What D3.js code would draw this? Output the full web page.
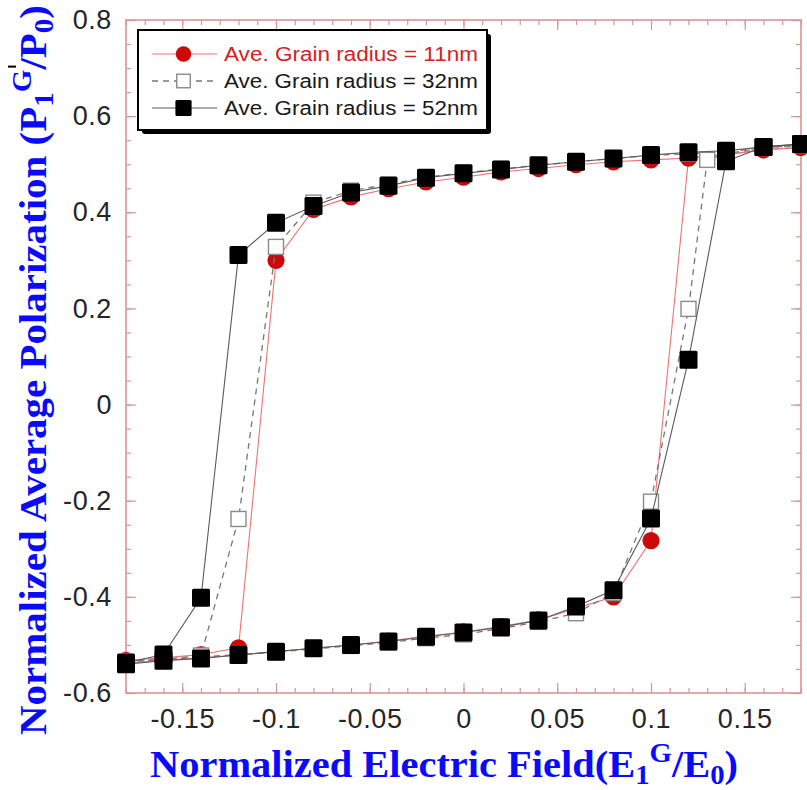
<!DOCTYPE html>
<html>
<head>
<meta charset="utf-8">
<script src="https://cdn.jsdelivr.net/npm/d3@7"></script>
<style>
  body { margin: 0; background: #ffffff; }
  svg { display: block; }
</style>
</head>
<body>
<svg id="chart" width="807" height="790"></svg>
<script>
// Field sweeps (normalized electric field E1G/E0)
const fieldUp = [-0.18, -0.16, -0.14, -0.12, -0.10, -0.08, -0.06, -0.04, -0.02, 0.00,
                 0.02, 0.04, 0.06, 0.08, 0.10, 0.12, 0.14, 0.16, 0.18];
const fieldDown = [0.18, 0.16, 0.14, 0.12, 0.10, 0.08, 0.06, 0.04, 0.02, 0.00,
                   -0.02, -0.04, -0.06, -0.08, -0.10, -0.12, -0.14, -0.16, -0.18];
const fieldUp32 = [-0.18, -0.16, -0.14, -0.12, -0.10, -0.08, -0.06, -0.04, -0.02, 0.00,
                   0.02, 0.04, 0.06, 0.08, 0.10, 0.12, 0.13, 0.14, 0.16, 0.18];

// Average grain radius = 11nm
const pol11Up = [-0.538, -0.532, -0.527, -0.521, -0.514, -0.507, -0.500, -0.492, -0.482, -0.473,
                 -0.462, -0.448, -0.424, -0.400, -0.283, 0.513, 0.520, 0.530, 0.535];
const pol11Down = [0.535, 0.530, 0.520, 0.513, 0.509, 0.505, 0.499, 0.491, 0.484, 0.473,
                   0.463, 0.449, 0.432, 0.406, 0.300, -0.506, -0.520, -0.527, -0.532];

// Average grain radius = 32nm
const pol32Up = [-0.535, -0.530, -0.525, -0.520, -0.515, -0.508, -0.502, -0.495, -0.486, -0.478,
                 -0.466, -0.452, -0.434, -0.392, -0.202, 0.199, 0.509, 0.522, 0.534, 0.540];
const pol32Down = [0.540, 0.534, 0.526, 0.522, 0.518, 0.512, 0.505, 0.498, 0.490, 0.482,
                   0.473, 0.458, 0.445, 0.420, 0.328, -0.238, -0.522, -0.530, -0.535];

// Average grain radius = 52nm
const pol52Up = [-0.540, -0.533, -0.528, -0.521, -0.514, -0.507, -0.500, -0.493, -0.483, -0.474,
                 -0.463, -0.449, -0.420, -0.386, -0.237, 0.093, 0.506, 0.536, 0.542];
const pol52Down = [0.542, 0.536, 0.528, 0.525, 0.519, 0.512, 0.505, 0.498, 0.489, 0.481,
                   0.472, 0.455, 0.441, 0.413, 0.378, 0.311, -0.402, -0.520, -0.537];

const seriesNames = ["Ave. Grain radius = 11nm", "Ave. Grain radius = 32nm", "Ave. Grain radius = 52nm"];

const xTickValues = [-0.15, -0.1, -0.05, 0, 0.05, 0.1, 0.15];
const xTickLabels = ["-0.15", "-0.1", "-0.05", "0", "0.05", "0.1", "0.15"];
const yTickValues = [-0.6, -0.4, -0.2, 0, 0.2, 0.4, 0.6, 0.8];
const yTickLabels = ["-0.6", "-0.4", "-0.2", "0", "0.2", "0.4", "0.6", "0.8"];

// ---------- layout ----------
const svg = d3.select("#chart");
const plot = { left: 126, right: 801, top: 20, bottom: 693 };
const x = d3.scaleLinear().domain([-0.18, 0.18]).range([plot.left, plot.right]);
const y = d3.scaleLinear().domain([-0.6, 0.8]).range([plot.bottom, plot.top]);

const frameColor = "#d99595";
const tickFont = "'Liberation Sans', Arial, Helvetica, sans-serif";
const titleFont = "'Liberation Serif', 'Times New Roman', serif";

// build point lists for a loop (increasing sweep then decreasing sweep)
function loop(fUp, pUp, fDown, pDown) {
  const up = fUp.map((f, i) => ({ f, p: pUp[i] }));
  const down = fDown.map((f, i) => ({ f, p: pDown[i] }));
  return { up, down };
}

const series = [
  { name: seriesNames[0], data: loop(fieldUp, pol11Up, fieldDown, pol11Down),
    line: "#ee7272", lineWidth: 1.1, dash: null, marker: "circle",
    fill: "#cc0a0a", stroke: "none", text: "#d42222" },
  { name: seriesNames[1], data: loop(fieldUp32, pol32Up, fieldDown, pol32Down),
    line: "#777777", lineWidth: 1.3, dash: "6,5", marker: "open",
    fill: "#ffffff", stroke: "#8a8a8a", text: "#1a1a1a" },
  { name: seriesNames[2], data: loop(fieldUp, pol52Up, fieldDown, pol52Down),
    line: "#5a5a5a", lineWidth: 1.1, dash: null, marker: "square",
    fill: "#000000", stroke: "none", text: "#1a1a1a" }
];

// ---------- frame and ticks ----------
const axes = svg.append("g");

function styleAxis(g) {
  g.select(".domain").remove();
  g.selectAll(".tick line").attr("stroke", frameColor).attr("stroke-width", 1.2);
}

const xMinor = d3.range(-18, 19).map(d => d / 100);
const yMinor = d3.range(-12, 17).map(d => d / 20);

// minor ticks on all four sides (pointing inward)
axes.append("g").attr("transform", `translate(0,${plot.bottom})`)
  .call(d3.axisBottom(x).tickValues(xMinor).tickSize(-5).tickFormat(""))
  .call(styleAxis);
axes.append("g").attr("transform", `translate(0,${plot.top})`)
  .call(d3.axisTop(x).tickValues(xMinor).tickSize(-5).tickFormat(""))
  .call(styleAxis);
axes.append("g").attr("transform", `translate(${plot.left},0)`)
  .call(d3.axisLeft(y).tickValues(yMinor).tickSize(-5).tickFormat(""))
  .call(styleAxis);
axes.append("g").attr("transform", `translate(${plot.right},0)`)
  .call(d3.axisRight(y).tickValues(yMinor).tickSize(-5).tickFormat(""))
  .call(styleAxis);

// major ticks with labels
const xAxis = axes.append("g").attr("transform", `translate(0,${plot.bottom})`)
  .call(d3.axisBottom(x).tickValues(xTickValues).tickSize(-10).tickPadding(16)
    .tickFormat((d, i) => xTickLabels[i]))
  .call(styleAxis);
axes.append("g").attr("transform", `translate(0,${plot.top})`)
  .call(d3.axisTop(x).tickValues(xTickValues).tickSize(-10).tickFormat(""))
  .call(styleAxis);
const yAxis = axes.append("g").attr("transform", `translate(${plot.left},0)`)
  .call(d3.axisLeft(y).tickValues(yTickValues).tickSize(-10).tickPadding(14)
    .tickFormat((d, i) => yTickLabels[i]))
  .call(styleAxis);
axes.append("g").attr("transform", `translate(${plot.right},0)`)
  .call(d3.axisRight(y).tickValues(yTickValues).tickSize(-10).tickFormat(""))
  .call(styleAxis);

[xAxis, yAxis].forEach(g => g.selectAll(".tick text")
  .attr("fill", "#262626")
  .style("font-family", tickFont)
  .style("font-size", "27px")
  .style("letter-spacing", "0.6px"));

// frame
axes.append("rect")
  .attr("x", plot.left).attr("y", plot.top)
  .attr("width", plot.right - plot.left).attr("height", plot.bottom - plot.top)
  .attr("fill", "none").attr("stroke", frameColor).attr("stroke-width", 1.6);

// ---------- data ----------
const lineGen = d3.line().x(d => x(d.f)).y(d => y(d.p));
const marks = svg.append("g");

const sq = 18, openSq = 15, rCircle = 8.6;

function drawMarker(g, s, px, py, scale = 1) {
  if (s.marker === "circle") {
    g.append("circle").attr("cx", px).attr("cy", py).attr("r", rCircle * scale)
      .attr("fill", s.fill);
  } else if (s.marker === "open") {
    const w = openSq * scale;
    g.append("rect").attr("x", px - w / 2).attr("y", py - w / 2)
      .attr("width", w).attr("height", w)
      .attr("fill", s.fill).attr("stroke", s.stroke).attr("stroke-width", 1.4);
  } else {
    const w = sq * scale;
    g.append("rect").attr("x", px - w / 2).attr("y", py - w / 2)
      .attr("width", w).attr("height", w).attr("rx", 1.5)
      .attr("fill", s.fill);
  }
}

series.forEach(s => {
  const g = marks.append("g");
  [s.data.up, s.data.down].forEach(branch => {
    g.append("path").datum(branch)
      .attr("d", lineGen)
      .attr("fill", "none")
      .attr("stroke", s.line)
      .attr("stroke-width", s.lineWidth)
      .attr("stroke-dasharray", s.dash);
  });
  [s.data.up, s.data.down].forEach(branch => {
    branch.forEach(d => drawMarker(g, s, x(d.f), y(d.p)));
  });
});

// ---------- legend ----------
const legend = svg.append("g");
const lg = { x: 138, y: 30, w: 349, h: 100 };
legend.append("rect").attr("x", lg.x + 4).attr("y", lg.y + 4)
  .attr("width", lg.w).attr("height", lg.h).attr("rx", 3).attr("fill", "#000");
legend.append("rect").attr("x", lg.x).attr("y", lg.y)
  .attr("width", lg.w).attr("height", lg.h)
  .attr("fill", "#fff").attr("stroke", "#000").attr("stroke-width", 2);

series.forEach((s, i) => {
  const cy = 54 + i * 27;
  const row = legend.append("g");
  row.append("line").attr("x1", 152).attr("x2", 217).attr("y1", cy).attr("y2", cy)
    .attr("stroke", s.line).attr("stroke-width", s.lineWidth).attr("stroke-dasharray", s.dash);
  drawMarker(row, s, 183.5, cy, 0.9);
  row.append("text")
    .attr("x", 224).attr("y", cy).attr("dy", "0.36em")
    .attr("fill", s.text)
    .style("font-family", tickFont).style("font-size", "20px")
    .attr("textLength", 254).attr("lengthAdjust", "spacingAndGlyphs")
    .text(s.name);
});

// ---------- axis titles ----------
const titleColor = "#0a0aff";

const xt = svg.append("text")
  .attr("x", 150).attr("y", 777)
  .attr("fill", titleColor)
  .style("font-family", titleFont).style("font-weight", "bold").style("font-size", "38px")
  .attr("textLength", 588).attr("lengthAdjust", "spacingAndGlyphs");
xt.append("tspan").text("Normalized Electric Field(E");
xt.append("tspan").attr("dy", 7).style("font-size", "27px").text("1");
xt.append("tspan").attr("dy", -22).style("font-size", "27px").text("G");
xt.append("tspan").attr("dy", 15).text("/E");
xt.append("tspan").attr("dy", 7).style("font-size", "27px").text("0");
xt.append("tspan").attr("dy", -7).text(")");

const ytg = svg.append("g").attr("transform", "translate(46,735) rotate(-90)");
const yt = ytg.append("text")
  .attr("x", 0).attr("y", 0)
  .attr("fill", titleColor)
  .style("font-family", titleFont).style("font-weight", "bold").style("font-size", "38px")
  .attr("textLength", 730).attr("lengthAdjust", "spacingAndGlyphs");
yt.append("tspan").text("Normalized Average Polarization (P");
yt.append("tspan").attr("dy", 7).style("font-size", "27px").text("1");
yt.append("tspan").attr("dy", -22).style("font-size", "27px").text("G");
yt.append("tspan").attr("dy", 15).text("/P");
yt.append("tspan").attr("dy", 7).style("font-size", "27px").text("0");
yt.append("tspan").attr("dy", -7).text(")");

// small overbar mark on the polarization symbol
const ytNode = yt.node();
const slashIdx = ytNode.textContent.indexOf("/");
const pos = ytNode.getStartPositionOfChar(slashIdx);
ytg.append("line")
  .attr("x1", pos.x + 3).attr("x2", pos.x + 3)
  .attr("y1", -38).attr("y2", -30)
  .attr("stroke", "#000").attr("stroke-width", 2);
</script>
</body>
</html>
